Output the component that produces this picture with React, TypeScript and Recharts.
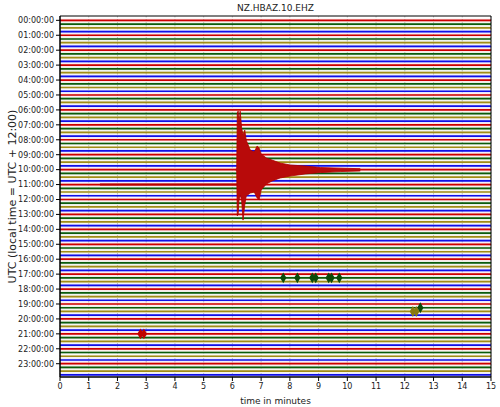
import React from "react";
import {
  Area,
  CartesianGrid,
  ComposedChart,
  Line,
  ReferenceArea,
  Scatter,
  XAxis,
  YAxis,
  ZAxis
} from "recharts";

const hourTicks = [0, 1, 2, 3, 4, 5, 6, 7, 8, 9, 10, 11, 12, 13, 14, 15, 16, 17, 18, 19, 20, 21, 22, 23];
const minuteTicks = [0, 1, 2, 3, 4, 5, 6, 7, 8, 9, 10, 11, 12, 13, 14, 15];
const quarterOffsets = [0, 0.25, 0.5, 0.75];
const traceColors = ["#cc0000", "#0b5b0b", "#a08c16", "#1010e6"];

// earthquake on the 10:00 trace: [minute, top, bottom] in hours
const quakeEnvelope: [number, number, number][] = [
  [6.12, 9.95, 10.08],
  [6.15, 9.94, 10.1],
  [6.17, 6.2, 13.1],
  [6.2, 6.08, 13.0],
  [6.23, 7.0, 12.03],
  [6.27, 6.08, 11.7],
  [6.32, 7.2, 12.03],
  [6.37, 7.68, 13.38],
  [6.43, 7.35, 12.37],
  [6.48, 8.02, 11.77],
  [6.62, 8.69, 11.57],
  [6.76, 8.82, 11.5],
  [6.86, 8.42, 11.9],
  [6.93, 8.55, 12.03],
  [7.0, 8.95, 11.37],
  [7.18, 9.22, 10.96],
  [7.38, 9.36, 10.76],
  [7.66, 9.56, 10.56],
  [8.01, 9.69, 10.43],
  [8.53, 9.76, 10.29],
  [9.06, 9.86, 10.2],
  [9.75, 9.9, 10.13],
  [10.45, 9.94, 10.09]
];

// smaller bursts: [minute, trace offset in hours]
const greenBursts: [number, number][] = [
  [7.77, 17.25],
  [8.26, 17.25],
  [8.78, 17.25],
  [8.9, 17.25],
  [9.35, 17.25],
  [9.45, 17.25],
  [9.72, 17.25],
  [12.54, 19.25]
];
const oliveBursts: [number, number][] = [
  [12.28, 19.5],
  [12.4, 19.5]
];
const redBursts: [number, number][] = [
  [2.8, 21.0],
  [2.92, 21.0]
];
const redPrecursor = [
  { m: 1.39, v: 11.0 },
  { m: 6.17, v: 11.0 }
];

const Y_TOP = -0.29;
const Y_BOTTOM = 23.89;
const FONT = "DejaVu Sans, sans-serif";

const traces = hourTicks.flatMap((h) =>
  quarterOffsets.map((q, i) => ({
    key: `t${h}-${i}`,
    color: traceColors[i],
    data: [
      { m: 0, v: h + q },
      { m: 15, v: h + q }
    ]
  }))
);

const quakeData = quakeEnvelope.map(([m, top, bottom]) => ({ m, range: [top, bottom] }));
const toPoints = (list: [number, number][]) => list.map(([m, v]) => ({ m, v, z: 1 }));

const pad = (n: number) => `${String(n).padStart(2, "0")}:00:00`;

const MARGIN = { top: 16, right: 9, bottom: 0, left: 0 };

export default function App() {
  return (
    <div style={{ position: "relative", width: 500, height: 407, background: "#fff", fontFamily: FONT }}>
      <style>{`body{margin:0}`}</style>
      <div
        style={{
          position: "absolute",
          left: 60,
          width: 431,
          top: 3,
          textAlign: "center",
          fontSize: 9,
          color: "#222"
        }}
      >
        NZ.HBAZ.10.EHZ
      </div>
      <ComposedChart width={500} height={407} margin={MARGIN}>
        <CartesianGrid
          horizontal={false}
          stroke="#b8b8b8"
          strokeWidth={0.8}
          strokeDasharray="1.5 1.5"
        />
        <XAxis
          dataKey="m"
          type="number"
          domain={[0, 15]}
          ticks={minuteTicks}
          allowDataOverflow
          height={30}
          tickSize={4}
          stroke="#000"
          tick={{ fontSize: 8, fill: "#222", fontFamily: FONT }}
          label={{
            value: "time in minutes",
            position: "insideBottom",
            offset: 3,
            style: { fontSize: 9, fill: "#222", fontFamily: FONT }
          }}
        />
        <YAxis
          dataKey="v"
          type="number"
          reversed
          domain={[Y_TOP, Y_BOTTOM]}
          ticks={hourTicks}
          allowDataOverflow
          interval={0}
          width={60}
          tickSize={4}
          stroke="#000"
          tickFormatter={pad}
          tick={{ fontSize: 8, fill: "#222", fontFamily: FONT }}
          label={{
            value: "UTC (local time = UTC + 12:00)",
            angle: -90,
            position: "insideLeft",
            offset: 12,
            style: { textAnchor: "middle", fontSize: 11, fill: "#222", fontFamily: FONT }
          }}
        />
        {traces.map((t) => (
          <Line
            key={`${t.key}-halo`}
            data={t.data}
            dataKey="v"
            stroke={t.color}
            strokeOpacity={0.13}
            strokeWidth={3.2}
            dot={false}
            activeDot={false}
            isAnimationActive={false}
          />
        ))}
        {traces.map((t) => (
          <Line
            key={t.key}
            data={t.data}
            dataKey="v"
            stroke={t.color}
            strokeWidth={1.7}
            dot={false}
            activeDot={false}
            isAnimationActive={false}
          />
        ))}
        <Line
          data={redPrecursor}
          dataKey="v"
          stroke="#b80000"
          strokeWidth={2.1}
          dot={false}
          activeDot={false}
          isAnimationActive={false}
        />
      </ComposedChart>
      <div style={{ position: "absolute", left: 0, top: 0 }}>
        <ComposedChart width={500} height={407} margin={MARGIN}>
          <XAxis
            dataKey="m"
            type="number"
            domain={[0, 15]}
            allowDataOverflow
            height={30}
            tick={false}
            tickLine={false}
            axisLine={false}
          />
          <YAxis
            dataKey="v"
            type="number"
            reversed
            domain={[Y_TOP, Y_BOTTOM]}
            allowDataOverflow
            width={60}
            tick={false}
            tickLine={false}
            axisLine={false}
          />
          <ZAxis dataKey="z" range={[34, 34]} />
          <Area
            data={quakeData}
            dataKey="range"
            type="linear"
            stroke="#b00000"
            strokeWidth={0.8}
            fill="#b80a0a"
            fillOpacity={1}
            dot={false}
            activeDot={false}
            isAnimationActive={false}
          />
          <Scatter data={toPoints(greenBursts)} dataKey="v" fill="#0a4a0a" shape="diamond" isAnimationActive={false} legendType="none" />
          <Scatter data={toPoints(oliveBursts)} dataKey="v" fill="#8a7a10" shape="diamond" isAnimationActive={false} legendType="none" />
          <Scatter data={toPoints(redBursts)} dataKey="v" fill="#c00000" shape="diamond" isAnimationActive={false} legendType="none" />
          <ReferenceArea
            x1={0}
            x2={15}
            y1={Y_TOP}
            y2={Y_BOTTOM}
            fill="none"
            stroke="#000"
            strokeWidth={1}
            ifOverflow="extendDomain"
          />
        </ComposedChart>
      </div>
    </div>
  );
}
